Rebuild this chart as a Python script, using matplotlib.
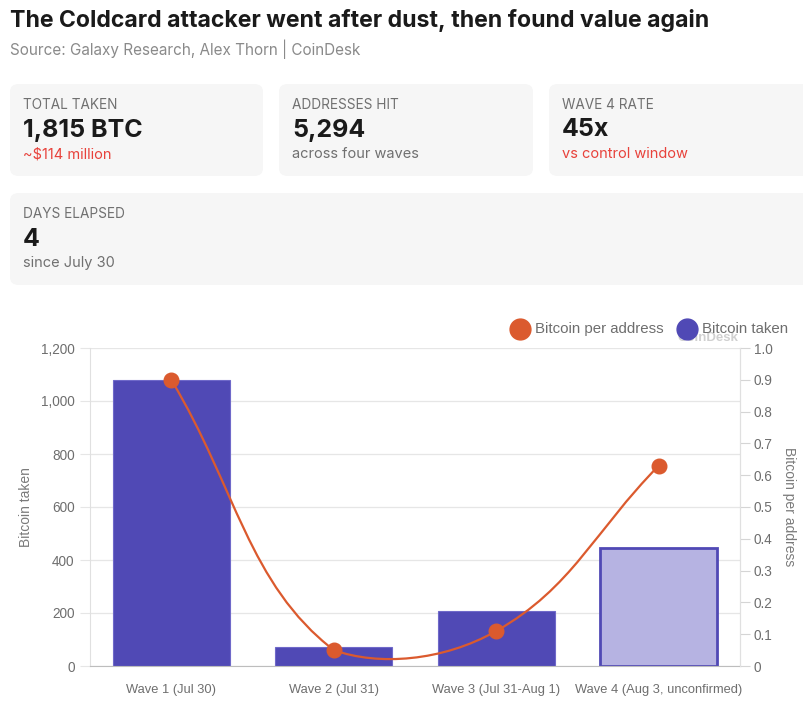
import matplotlib.pyplot as plt
import numpy as np
from matplotlib.patches import FancyBboxPatch, Path, PathPatch
from matplotlib.lines import Line2D

# Chart data
waves = ["Wave 1 (Jul 30)", "Wave 2 (Jul 31)", "Wave 3 (Jul 31-Aug 1)", "Wave 4 (Aug 3, unconfirmed)"]
btc_taken = [1080, 72, 207, 445]
btc_per_address = [0.90, 0.05, 0.11, 0.63]
confirmed = [True, True, True, False]

# Summary cards (label, value, note, note is red)
cards = [
    ("TOTAL TAKEN", "1,815 BTC", "~$114 million", True),
    ("ADDRESSES HIT", "5,294", "across four waves", False),
    ("WAVE 4 RATE", "45x", "vs control window", True),
    ("DAYS ELAPSED", "4", "since July 30", False),
]

W, H = 804, 701
PURPLE = "#5049B5"
LIGHT_PURPLE = "#B6B3E2"
ORANGE = "#DB5A2E"
RED = "#E8423B"
GREY = "#6E6E6E"
SANS = ["Liberation Sans", "DejaVu Sans"]
HEAD = ["Inter", "DejaVu Sans"]

fig = plt.figure(figsize=(W / 100, H / 100), dpi=100)


def fx(px):
    return px / W


def fy(py):
    return 1 - py / H


# Title and source
fig.text(fx(10), fy(21), "The Coldcard attacker went after dust, then found value again",
         fontsize=16.6, fontweight="bold", family=HEAD, color="#1a1a1a", va="center")
fig.text(fx(10), fy(49), "Source: Galaxy Research, Alex Thorn | CoinDesk",
         fontsize=11, family=HEAD, color="#8a8a8a", va="center")

# Cards
card_boxes = [(10, 84, 253, 92), (279, 84, 254, 92), (549, 84, 265, 92), (10, 193, 804, 92)]
for (label, value, note, red), (x0, y0, w, h) in zip(cards, card_boxes):
    box = FancyBboxPatch((fx(x0), fy(y0 + h)), fx(w), h / H,
                         boxstyle="round,pad=0,rounding_size=0.011",
                         transform=fig.transFigure, facecolor="#F6F6F6",
                         edgecolor="none", zorder=0)
    fig.add_artist(box)
    fig.text(fx(x0 + 13), fy(y0 + 21), label, fontsize=9.8, family=HEAD,
             color="#707070", va="center")
    fig.text(fx(x0 + 13), fy(y0 + 46), value, fontsize=18, fontweight="bold",
             family=HEAD, color="#1a1a1a", va="center")
    fig.text(fx(x0 + 13), fy(y0 + 70), note, fontsize=10.5, family=HEAD,
             color=RED if red else "#707070", va="center")

# Main chart
ax = fig.add_axes([fx(90), fy(666), fx(740 - 90), (666 - 348) / H])
x = np.arange(len(waves))
for i in x:
    if confirmed[i]:
        ax.bar(i, btc_taken[i], width=0.72, color=PURPLE, edgecolor="#6f69c9",
               linewidth=0.8, zorder=2)
    else:
        ax.bar(i, btc_taken[i], width=0.72, color=LIGHT_PURPLE, edgecolor=PURPLE,
               linewidth=2, zorder=2)

ax.set_xlim(-0.5, len(waves) - 0.5)
ax.set_ylim(0, 1200)
ax.set_yticks(np.arange(0, 1201, 200))
ax.set_yticklabels([f"{v:,}" for v in range(0, 1201, 200)])
ax.set_xticks(x)
ax.set_xticklabels(waves)
ax.grid(axis="y", color="#E6E6E6", linewidth=0.9, zorder=0)
ax.tick_params(axis="y", length=7, color="#E6E6E6", labelsize=9.8, labelcolor=GREY, pad=4)
ax.tick_params(axis="x", length=0, labelsize=9.3, labelcolor=GREY, pad=13)
for t in ax.get_xticklabels() + ax.get_yticklabels():
    t.set_family(SANS)
ax.spines["top"].set_visible(False)
for side in ["left", "right"]:
    ax.spines[side].set_color("#E0E0E0")
ax.spines["bottom"].set_color("#BDBDBD")
ax.set_ylabel("Bitcoin taken", fontsize=10, color="#7a7a7a", family=SANS, labelpad=6)

ax2 = ax.twinx()
ax2.set_ylim(0, 1.0)
ax2.set_yticks(np.round(np.arange(0, 1.01, 0.1), 1))
ax2.set_yticklabels(["0"] + [f"{v:.1f}" for v in np.arange(0.1, 1.01, 0.1)])
ax2.tick_params(axis="y", length=7, color="#D5D5D5", labelsize=9.8, labelcolor=GREY, pad=3)
for t in ax2.get_yticklabels():
    t.set_family(SANS)
for side in ["top", "left", "bottom"]:
    ax2.spines[side].set_visible(False)
ax2.spines["right"].set_color("#E0E0E0")
ax2.set_ylabel("Bitcoin per address", fontsize=10, color="#7a7a7a", family=SANS,
               rotation=270, labelpad=17)

# Smooth line (tension 0.4), control points in display space, capped to the plot area
fig.canvas.draw()
pts = ax2.transData.transform(np.column_stack([x, btc_per_address]))
bbox = ax2.bbox
tension = 0.4
ctrl_prev, ctrl_next = [], []
for i in range(len(pts)):
    prev = pts[max(i - 1, 0)]
    cur = pts[i]
    nxt = pts[min(i + 1, len(pts) - 1)]
    d01 = np.hypot(*(cur - prev))
    d12 = np.hypot(*(nxt - cur))
    tot = d01 + d12 if d01 + d12 > 0 else 1
    fa = tension * d01 / tot
    fb = tension * d12 / tot
    cp = cur - fa * (nxt - prev)
    cn = cur + fb * (nxt - prev)
    for c in (cp, cn):
        c[0] = np.clip(c[0], bbox.x0, bbox.x1)
        c[1] = np.clip(c[1], bbox.y0, bbox.y1)
    ctrl_prev.append(cp)
    ctrl_next.append(cn)
verts = [pts[0]]
codes = [Path.MOVETO]
for i in range(len(pts) - 1):
    verts += [ctrl_next[i], ctrl_prev[i + 1], pts[i + 1]]
    codes += [Path.CURVE4] * 3
inv = ax2.transData.inverted()
path = Path(inv.transform(np.array(verts)), codes)
ax2.add_patch(PathPatch(path, facecolor="none", edgecolor=ORANGE, linewidth=1.6, zorder=3))
ax2.plot(x, btc_per_address, linestyle="none", marker="o", markersize=10.5,
         color=ORANGE, zorder=4)

# Watermark
fig.text(fx(708), fy(338), "CoinDesk", fontsize=9.5, fontweight="bold", family=SANS,
         color="#D0D0D0", ha="center", va="center", zorder=0)

# Legend, drawn by hand
legend_items = [("Bitcoin per address", ORANGE, 520), ("Bitcoin taken", PURPLE, 687)]
for name, col, cx in legend_items:
    fig.add_artist(Line2D([fx(cx)], [fy(329)], linestyle="none", marker="o",
                          markersize=15, color=col, transform=fig.transFigure, zorder=5))
    fig.text(fx(cx + 15), fy(329), name, fontsize=10.8, family=SANS, color=GREY,
             va="center", ha="left", zorder=6)

fig.savefig("out.png", dpi=100, facecolor="white")
